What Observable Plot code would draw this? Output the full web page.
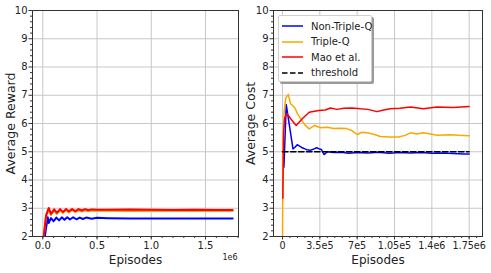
<!DOCTYPE html>
<html><head><meta charset="utf-8">
<script src="https://cdn.jsdelivr.net/npm/d3@7"></script>
<script src="https://cdn.jsdelivr.net/npm/@observablehq/plot@0.6"></script>
<style>
html,body{margin:0;padding:0;background:#fff;}
#wrap{position:relative;width:491px;height:273px;overflow:hidden;font-family:"DejaVu Sans",sans-serif;}
#wrap svg{position:absolute;top:0;overflow:visible;}
#legend{position:absolute;left:278px;top:15px;width:94px;height:67px;background:#fff;border:1px solid #cfcfcf;box-shadow:2px 2px 0 #9a9a9a;border-radius:2px;font-size:10px;color:#222;box-sizing:border-box;}
#legend .row{position:absolute;left:3px;height:14px;display:flex;align-items:center;}
#legend .row span{margin-left:8px;white-space:nowrap;}
</style></head>
<body><div id="wrap"></div>
<script>
// ---- Reward panel data (episodes, average reward) ----
const blueRewardX = [15000, 30000, 45000, 55000, 75000, 100000, 125000, 150000, 175000, 200000, 225000, 250000, 280000, 310000, 340000, 370000, 400000, 450000, 500000, 600000, 800000, 1000000, 1200000, 1400000, 1600000, 1750000];
const blueRewardY = [1.9, 2.3, 2.68, 2.48, 2.65, 2.54, 2.67, 2.57, 2.68, 2.59, 2.68, 2.6, 2.68, 2.61, 2.67, 2.62, 2.67, 2.63, 2.66, 2.65, 2.64, 2.64, 2.64, 2.64, 2.64, 2.64];
const orangeRewardX = [8000, 30000, 55000, 75000, 105000, 130000, 160000, 185000, 215000, 240000, 270000, 300000, 330000, 360000, 390000, 420000, 450000, 500000, 600000, 800000, 1000000, 1200000, 1400000, 1600000, 1750000];
const orangeRewardY = [2.0, 2.7, 2.96, 2.76, 2.92, 2.8, 2.93, 2.83, 2.93, 2.85, 2.93, 2.86, 2.93, 2.88, 2.93, 2.89, 2.92, 2.91, 2.91, 2.9, 2.9, 2.9, 2.9, 2.9, 2.9];
const redRewardX = [8000, 30000, 55000, 75000, 105000, 130000, 160000, 185000, 215000, 240000, 270000, 300000, 330000, 360000, 390000, 420000, 450000, 500000, 600000, 800000, 1000000, 1200000, 1400000, 1600000, 1750000];
const redRewardY = [2.0, 2.75, 3.01, 2.8, 2.96, 2.84, 2.97, 2.87, 2.97, 2.89, 2.97, 2.9, 2.97, 2.92, 2.97, 2.93, 2.96, 2.95, 2.95, 2.96, 2.95, 2.94, 2.95, 2.94, 2.94];

// ---- Cost panel data (episodes, average cost) ----
const blueCostX = [13000, 35000, 98000, 115000, 138000, 160000, 185000, 210000, 230000, 260000, 295000, 320000, 345000, 365000, 390000, 420000, 480000, 550000, 620000, 700000, 800000, 900000, 1000000, 1100000, 1200000, 1300000, 1400000, 1500000, 1600000, 1700000, 1750000];
const blueCostY = [4.45, 6.67, 5.1, 5.15, 5.25, 5.2, 5.14, 5.1, 5.07, 5.05, 5.1, 5.14, 5.1, 5.08, 4.9, 5.0, 4.97, 4.98, 4.95, 4.97, 4.96, 4.98, 4.95, 4.97, 4.96, 4.97, 4.95, 4.96, 4.94, 4.92, 4.92];
const orangeCostX = [0, 5000, 15000, 30000, 54000, 75000, 100000, 116000, 140000, 170000, 210000, 250000, 300000, 357000, 420000, 480000, 540000, 600000, 650000, 700000, 745000, 810000, 870000, 917000, 1000000, 1088000, 1150000, 1200000, 1260000, 1320000, 1400000, 1450000, 1570000, 1650000, 1750000];
const orangeCostY = [2.0, 5.2, 6.4, 6.9, 7.03, 6.7, 6.62, 6.55, 6.35, 6.17, 5.95, 5.81, 5.93, 5.85, 5.87, 5.82, 5.83, 5.82, 5.75, 5.61, 5.69, 5.66, 5.6, 5.54, 5.52, 5.52, 5.58, 5.67, 5.63, 5.67, 5.62, 5.58, 5.6, 5.58, 5.57];
const redCostX = [3000, 10000, 22000, 44000, 80000, 128000, 185000, 250000, 340000, 400000, 450000, 510000, 576000, 650000, 730000, 800000, 885000, 950000, 1010000, 1100000, 1200000, 1320000, 1450000, 1600000, 1750000];
const redCostY = [3.35, 5.7, 6.22, 6.34, 6.15, 5.93, 6.17, 6.4, 6.46, 6.48, 6.55, 6.5, 6.54, 6.55, 6.52, 6.5, 6.42, 6.48, 6.52, 6.54, 6.58, 6.52, 6.58, 6.57, 6.6];
const thresholdX = [0, 1750000];
const thresholdY = [5, 5];

// ---- Ticks ----
const yTicks = [2, 3, 4, 5, 6, 7, 8, 9, 10];
const leftXTicks = [0, 500000, 1000000, 1500000];
const leftXTickLabels = ["0.0", "0.5", "1.0", "1.5"];
const rightXTicks = [0, 350000, 700000, 1050000, 1400000, 1750000];
const rightXTickLabels = ["0", "3.5e5", "7e5", "1.05e5", "1.4e6", "1.75e6"];
const seriesNames = ["Non-Triple-Q", "Triple-Q", "Mao et al.", "threshold"];
const seriesColors = ["#0000ff", "#ffa500", "#ff0000", "#000000"];

const pts = (xs, ys) => xs.map((x, i) => ({x, y: ys[i]}));
const yMinor = d3.range(2, 10.001, 0.2).filter(v => Math.abs(v - Math.round(v)) > 1e-6);

function panel({width, marginLeft, marginRight, xDomain, xTicks, xLabels, xMinor, xFont, yLabel, yLabelDx, series, lw, extra}) {
  return Plot.plot({
    width, height: 273,
    marginLeft, marginRight, marginTop: 10, marginBottom: 37,
    style: {fontFamily: "DejaVu Sans, sans-serif", fontSize: "10px", color: "#222", background: "transparent", overflow: "visible"},
    x: {domain: xDomain},
    y: {domain: [2, 10]},
    marks: [
      Plot.gridX(xTicks, {stroke: "#c8c8c8", strokeOpacity: 1, strokeWidth: 1}),
      Plot.gridY(yTicks, {stroke: "#c8c8c8", strokeOpacity: 1, strokeWidth: 1}),
      ...series.map(s => Plot.line(pts(s.x, s.y), {x: "x", y: "y", stroke: s.color, strokeWidth: s.lw ?? lw, strokeDasharray: s.dash, clip: true})),
      Plot.axisY({ticks: yMinor, tickSize: 2, text: null, label: null, stroke: "#333"}),
      Plot.axisX({ticks: xMinor, tickSize: 2, text: null, label: null, stroke: "#333"}),
      Plot.axisY({ticks: yTicks, tickSize: 3.5, tickPadding: 1.5, label: null, fontSize: 10, stroke: "#333"}),
      Plot.axisX({ticks: xTicks, tickFormat: (d) => xLabels[xTicks.indexOf(d)], tickSize: 3.5, tickPadding: 2, label: null, fontSize: xFont, stroke: "#333"}),
      Plot.text([yLabel], {frameAnchor: "left", rotate: -90, textAnchor: "middle", lineAnchor: "middle", dx: yLabelDx, fontSize: 12.5, fill: "#222"}),
      Plot.text(["Episodes"], {frameAnchor: "bottom", textAnchor: "middle", lineAnchor: "middle", dy: 24, fontSize: 12, fill: "#222"}),
      Plot.frame({stroke: "#333", strokeWidth: 1}),
      ...(extra || [])
    ]
  });
}

const wrap = document.getElementById("wrap");
const left = panel({
  width: 245, marginLeft: 32, marginRight: 7,
  xDomain: [-95000, 1804000], xTicks: leftXTicks, xLabels: leftXTickLabels, xFont: 10,
  xMinor: d3.range(0, 1800001, 100000), yLabel: "Average Reward", yLabelDx: -22, lw: 2,
  series: [
    {x: blueRewardX, y: blueRewardY, color: seriesColors[0]},
    {x: orangeRewardX, y: orangeRewardY, color: seriesColors[1]},
    {x: redRewardX, y: redRewardY, color: seriesColors[2]}
  ],
  extra: [Plot.text(["1e6"], {frameAnchor: "bottom-right", textAnchor: "end", lineAnchor: "middle", dy: 21, dx: -1, fontSize: 8, fill: "#222"})]
});
left.style.left = "0px";
wrap.appendChild(left);

const right = panel({
  width: 253, marginLeft: 35, marginRight: 9,
  xDomain: [-84500, 1875000], xTicks: rightXTicks, xLabels: rightXTickLabels, xFont: 9.6,
  xMinor: d3.range(0, 1850001, 70000), yLabel: "Average Cost", yLabelDx: -23, lw: 1.5,
  series: [
    {x: blueCostX, y: blueCostY, color: seriesColors[0]},
    {x: orangeCostX, y: orangeCostY, color: seriesColors[1]},
    {x: redCostX, y: redCostY, color: seriesColors[2]},
    {x: thresholdX, y: thresholdY, color: seriesColors[3], dash: "5.5,2.5"}
  ]
});
right.style.left = "238px";
wrap.appendChild(right);

// legend
const lg = document.createElement("div");
lg.id = "legend";
seriesNames.forEach((name, i) => {
  const row = document.createElement("div");
  row.className = "row";
  row.style.top = (3 + i * 15.5) + "px";
  const dash = i === 3 ? ' stroke-dasharray="5.5,2.5"' : '';
  row.innerHTML = `<svg width="21" height="4" style="position:static"><line x1="0" y1="2" x2="21" y2="2" stroke="${seriesColors[i]}" stroke-width="1.5"${dash}/></svg><span>${name}</span>`;
  lg.appendChild(row);
});
wrap.appendChild(lg);
</script>
</body></html>
